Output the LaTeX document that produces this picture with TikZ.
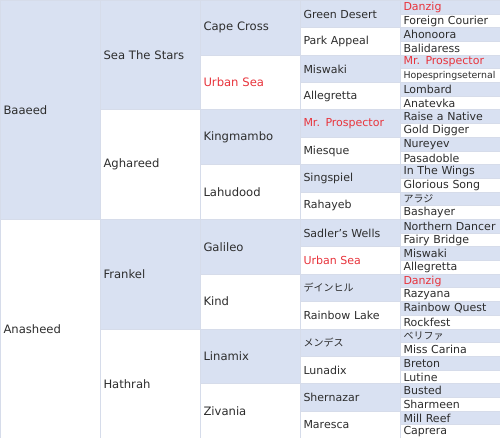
\documentclass[tikz,border=0pt]{standalone}
\usepackage{fontspec}
\setmainfont{DejaVu Sans}
\newfontfamily\jp{Noto Sans CJK JP}
\newcommand\jpt[1]{{\jp\fontsize{10}{11}\selectfont #1}}
\newcommand\smallname[1]{{\fontsize{9.4}{11}\selectfont #1}}
\definecolor{cellblue}{RGB}{217,225,242}
\definecolor{gridc}{RGB}{214,220,234}
\definecolor{txt}{RGB}{45,45,45}
\definecolor{txtred}{RGB}{232,52,60}
\def\rh{13.6875}
\begin{document}
\begin{tikzpicture}[x=1pt,y=1pt,
  cell/.style={draw=gridc, line width=1pt, anchor=north west, inner xsep=3pt, inner ysep=0pt,
    minimum width=100pt, text width=94pt, align=left, font=\fontsize{11}{13}\selectfont},
  bigcell/.style={cell, font=\fontsize{11.6}{13}\selectfont}]
\useasboundingbox (0,0) rectangle (500,-438);
% generation 1
\foreach \t/\c [count=\i from 0] in {Baaeed/txt, Anasheed/txt} {
  \ifodd\i\def\fc{white}\else\def\fc{cellblue}\fi
  \node[bigcell, fill=\fc, text=\c, minimum height=16*\rh pt] (a\i) at (0,-\i*16*\rh) {\t};
}
% generation 2
\foreach \t/\c [count=\i from 0] in {Sea The Stars/txt, Aghareed/txt, Frankel/txt, Hathrah/txt} {
  \ifodd\i\def\fc{white}\else\def\fc{cellblue}\fi
  \node[bigcell, fill=\fc, text=\c, minimum height=8*\rh pt] (b\i) at (100,-\i*8*\rh) {\t};
}
% generation 3
\foreach \t/\c [count=\i from 0] in {Cape Cross/txt, Urban Sea/txtred, Kingmambo/txt, Lahudood/txt,
    Galileo/txt, Kind/txt, Linamix/txt, Zivania/txt} {
  \ifodd\i\def\fc{white}\else\def\fc{cellblue}\fi
  \node[bigcell, fill=\fc, text=\c, minimum height=4*\rh pt] (c\i) at (200,-\i*4*\rh) {\t};
}
% generation 4
\foreach \t/\c [count=\i from 0] in {Green Desert/txt, Park Appeal/txt, Miswaki/txt, Allegretta/txt,
    Mr. Prospector/txtred, Miesque/txt, Singspiel/txt, Rahayeb/txt,
    Sadler's Wells/txt, Urban Sea/txtred, \jpt{デインヒル}/txt, Rainbow Lake/txt,
    \jpt{メンデス}/txt, Lunadix/txt, Shernazar/txt, Maresca/txt} {
  \ifodd\i\def\fc{white}\else\def\fc{cellblue}\fi
  \node[cell, fill=\fc, text=\c, minimum height=2*\rh pt] (d\i) at (300,-\i*2*\rh) {\t};
}
% generation 5
\foreach \t/\c [count=\i from 0] in {Danzig/txtred, Foreign Courier/txt, Ahonoora/txt, Balidaress/txt,
    Mr. Prospector/txtred, \smallname{Hopespringseternal}/txt, Lombard/txt, Anatevka/txt,
    Raise a Native/txt, Gold Digger/txt, Nureyev/txt, Pasadoble/txt,
    In The Wings/txt, Glorious Song/txt, \jpt{アラジ}/txt, Bashayer/txt,
    Northern Dancer/txt, Fairy Bridge/txt, Miswaki/txt, Allegretta/txt,
    Danzig/txtred, Razyana/txt, Rainbow Quest/txt, Rockfest/txt,
    \jpt{ベリファ}/txt, Miss Carina/txt, Breton/txt, Lutine/txt,
    Busted/txt, Sharmeen/txt, Mill Reef/txt, Caprera/txt} {
  \ifodd\i\def\fc{white}\else\def\fc{cellblue}\fi
  \node[cell, fill=\fc, text=\c, minimum height=\rh pt] (e\i) at (400,-\i*\rh) {\t};
}
\end{tikzpicture}
\end{document}
